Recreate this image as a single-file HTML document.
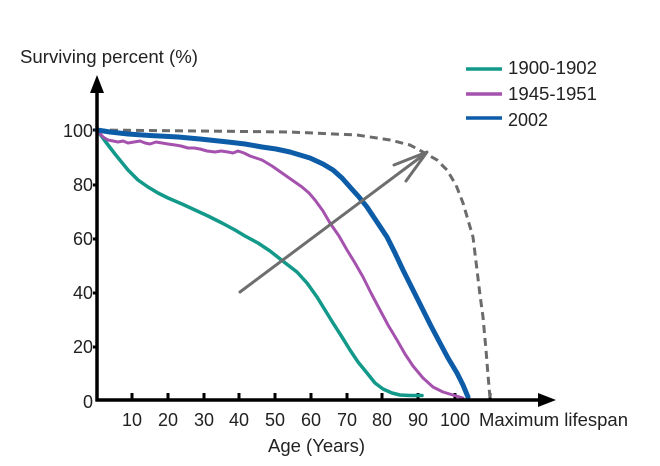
<!DOCTYPE html>
<html>
<head>
<meta charset="utf-8">
<style>
html,body{margin:0;padding:0;background:#fff;}
svg{display:block;}
text{font-family:"Liberation Sans",Arial,sans-serif;fill:#222;}
</style>
</head>
<body>
<svg width="660" height="466" viewBox="0 0 660 466" xmlns="http://www.w3.org/2000/svg">
<rect width="660" height="466" fill="#fff"/>

<!-- title -->
<text x="20" y="63" font-size="18" textLength="178" lengthAdjust="spacingAndGlyphs">Surviving percent (%)</text>

<!-- y tick labels -->
<g font-size="18" text-anchor="end">
<text x="93" y="137">100</text>
<text x="93" y="191">80</text>
<text x="93" y="245">60</text>
<text x="93" y="299">40</text>
<text x="93" y="353">20</text>
<text x="93" y="408">0</text>
</g>
<!-- y ticks -->
<g stroke="#000" stroke-width="3">
<line x1="93" y1="130" x2="97" y2="130"/>
<line x1="93" y1="185" x2="97" y2="185"/>
<line x1="93" y1="239" x2="97" y2="239"/>
<line x1="93" y1="293" x2="97" y2="293"/>
<line x1="93" y1="347" x2="97" y2="347"/>
</g>

<!-- x tick labels -->
<g font-size="18" text-anchor="middle">
<text x="132" y="426">10</text>
<text x="168" y="426">20</text>
<text x="204" y="426">30</text>
<text x="239" y="426">40</text>
<text x="275" y="426">50</text>
<text x="311" y="426">60</text>
<text x="347" y="426">70</text>
<text x="382" y="426">80</text>
<text x="418" y="426">90</text>
<text x="455" y="426">100</text>
</g>
<text x="479" y="426" font-size="18" textLength="149" lengthAdjust="spacingAndGlyphs">Maximum lifespan</text>
<text x="268" y="452" font-size="18" textLength="97" lengthAdjust="spacingAndGlyphs">Age (Years)</text>

<!-- x ticks -->
<g stroke="#000" stroke-width="3">
<line x1="132" y1="393" x2="132" y2="400"/>
<line x1="168" y1="393" x2="168" y2="400"/>
<line x1="204" y1="393" x2="204" y2="400"/>
<line x1="239" y1="393" x2="239" y2="400"/>
<line x1="275" y1="393" x2="275" y2="400"/>
<line x1="311" y1="393" x2="311" y2="400"/>
<line x1="347" y1="393" x2="347" y2="400"/>
<line x1="382" y1="393" x2="382" y2="400"/>
<line x1="418" y1="393" x2="418" y2="400"/>
<line x1="455" y1="393" x2="455" y2="400"/>
<line x1="490" y1="393" x2="490" y2="400"/>
</g>

<!-- dashed max lifespan curve -->
<polyline fill="none" stroke="#6b6b6b" stroke-width="3" stroke-dasharray="8,5"
 points="97,130 200,131 290,132 357,135 390,140 410,145 423,152 437,160 447,170 456,185 463,203 468,220 473,237 477,270 480,295 483,317 486,350 488,375 490,398"/>

<!-- teal 1900-1902 -->
<polyline fill="none" stroke="#13998a" stroke-width="3.5" stroke-linejoin="round" stroke-linecap="round"
 points="97,130 105,141 115,154 128,170 138,180 148,187 158,193 168,198 182,204 195,210 208,216 222,223 235,230 245,236 258,243 270,251 284,262 297,272 307,283 317,297 325,310 333,323 342,337 350,350 358,362 367,373 375,383 383,389 392,393 400,395 410,395.5 422,395.5"/>

<!-- purple 1945-1951 -->
<polyline fill="none" stroke="#a452ae" stroke-width="3" stroke-linejoin="round" stroke-linecap="round"
 points="97,130 103,137 108,140 113,141 118,142 123,141 128,143 134,142 140,141 145,143 150,144 156,142 162,143 168,144 175,145 181,146 188,148 194,148 200,149 207,151 215,152 221,151 228,152 233,153 238,151 244,153 250,156 256,158 262,160 272,166 282,173 292,180 302,187 309,193 315,200 323,211 330,223 339,236 347,250 355,263 363,277 371,293 380,310 388,325 397,340 405,354 413,366 423,378 433,387 443,392 453,395 463,398"/>

<!-- blue 2002 -->
<polyline fill="none" stroke="#0d5ca8" stroke-width="5" stroke-linejoin="round" stroke-linecap="round"
 points="97,130 110,132 128,134 150,135.5 178,137 200,139 228,142 245,144 262,147 276,149 290,152 300,155 310,158 323,164 333,170 342,178 350,187 359,197 367,207 377,222 387,237 395,253 403,270 413,290 423,310 431,326 440,343 448,358 457,373 463,385 468,397"/>

<!-- grey arrow -->
<g stroke="#6e6e6e" stroke-width="3" stroke-linecap="round" fill="none">
<line x1="240" y1="292" x2="426" y2="153"/>
<polyline points="394,165 427,152 406,181" stroke-linejoin="round"/>
</g>

<!-- axes -->
<line x1="97" y1="401.5" x2="97" y2="88" stroke="#000" stroke-width="3.5"/>
<polygon points="97,75 90,93 104,93" fill="#000"/>
<line x1="95.5" y1="400" x2="543" y2="400" stroke="#000" stroke-width="3.5"/>
<polygon points="556,400 538,393 538,407" fill="#000"/>

<!-- legend -->
<line x1="466" y1="69" x2="502" y2="69" stroke="#13998a" stroke-width="3.5"/>
<line x1="466" y1="94" x2="502" y2="94" stroke="#a452ae" stroke-width="3.5"/>
<line x1="466" y1="118" x2="502" y2="118" stroke="#0d5ca8" stroke-width="3.5"/>
<g font-size="18">
<text x="508" y="74" textLength="89" lengthAdjust="spacingAndGlyphs">1900-1902</text>
<text x="508" y="100" textLength="89" lengthAdjust="spacingAndGlyphs">1945-1951</text>
<text x="508" y="126">2002</text>
</g>
</svg>
</body>
</html>
